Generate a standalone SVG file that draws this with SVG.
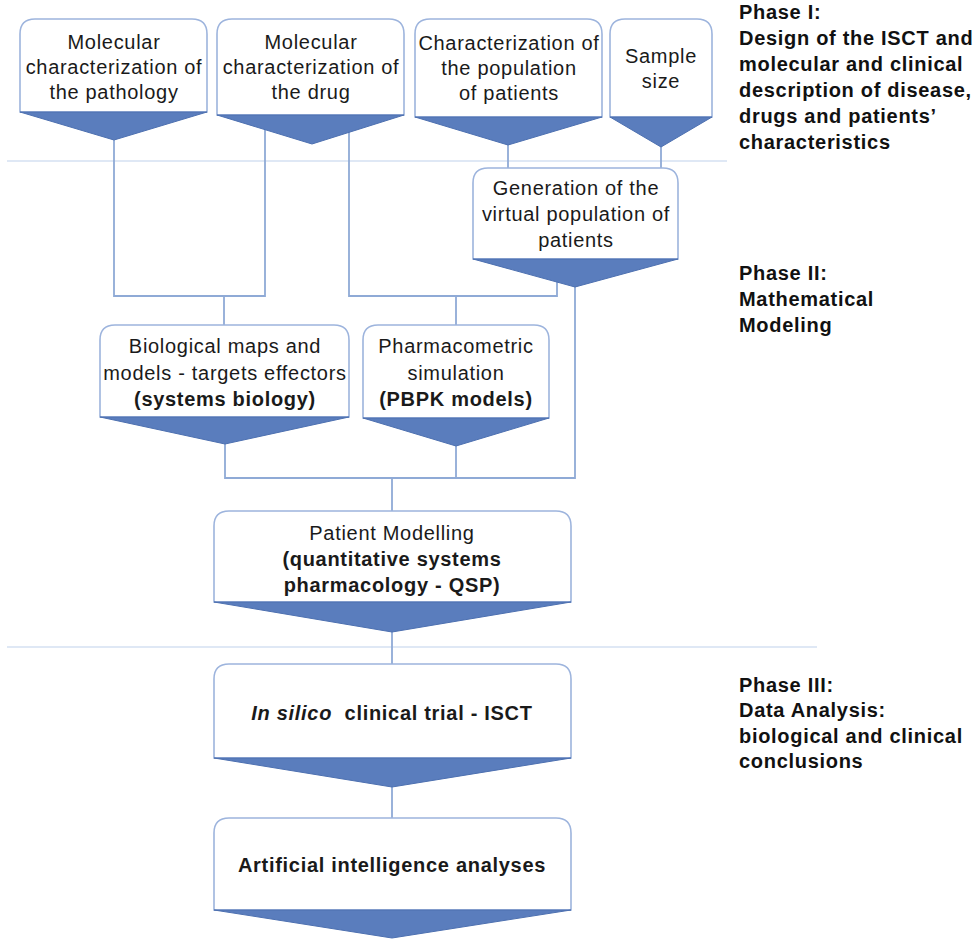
<svg xmlns="http://www.w3.org/2000/svg" width="976" height="952" viewBox="0 0 976 952">
<style>
.box{fill:#ffffff;stroke:#9db4dd;stroke-width:1.6}
.tri{fill:#5a7dbd;stroke:#4d70b0;stroke-width:1}
.con{fill:none;stroke:#8faad6;stroke-width:1.8}
.sep{fill:none;stroke:#dfe8f5;stroke-width:2}
text{font-family:"Liberation Sans",Arial,Helvetica,sans-serif;font-size:20px;fill:#1a1a1a;letter-spacing:0.7px}
.c{text-anchor:middle}
.b{font-weight:bold}
.ph{font-weight:bold;fill:#111111}
</style>
<rect width="976" height="952" fill="#ffffff"/>
<g id="separators">
<line class="sep" x1="7" y1="161" x2="727" y2="161"/>
<line class="sep" x1="7" y1="647" x2="817" y2="647"/>
</g>
<g id="connectors">
<polyline class="con" points="114,140 114,296 265,296 265,125"/>
<polyline class="con" points="349,125 349,296 557,296 557,270"/>
<line class="con" x1="224" y1="296" x2="224" y2="327"/>
<line class="con" x1="456" y1="296" x2="456" y2="327"/>
<line class="con" x1="508" y1="140" x2="508" y2="170"/>
<line class="con" x1="661" y1="140" x2="661" y2="170"/>
<polyline class="con" points="575,280 575,478 225,478 225,440"/>
<line class="con" x1="456" y1="440" x2="456" y2="478"/>
<line class="con" x1="392" y1="478" x2="392" y2="513"/>
<line class="con" x1="392" y1="628" x2="392" y2="666"/>
<line class="con" x1="392" y1="783" x2="392" y2="820"/>
</g>
<g id="node-pathology">
<path class="box" d="M20,112 V34 Q20,19 35,19 H192 Q207,19 207,34 V112 Z"/>
<polygon class="tri" points="20,112 207,112 114,140"/>
<text class="c" x="114" y="49">Molecular</text>
<text class="c" x="114" y="74">characterization of</text>
<text class="c" x="114" y="99">the pathology</text>
</g>
<g id="node-drug">
<path class="box" d="M217,115 V34 Q217,19 232,19 H389 Q404,19 404,34 V115 Z"/>
<polygon class="tri" points="217,115 404,115 312,144"/>
<text class="c" x="311" y="49">Molecular</text>
<text class="c" x="311" y="74">characterization of</text>
<text class="c" x="311" y="99">the drug</text>
</g>
<g id="node-population">
<path class="box" d="M415,117 V34 Q415,19 430,19 H587 Q602,19 602,34 V117 Z"/>
<polygon class="tri" points="415,117 602,117 508,145"/>
<text class="c" x="509" y="50">Characterization of</text>
<text class="c" x="509" y="75">the population</text>
<text class="c" x="509" y="100">of patients</text>
</g>
<g id="node-sample">
<path class="box" d="M610,117 V34 Q610,19 625,19 H697 Q712,19 712,34 V117 Z"/>
<polygon class="tri" points="610,117 712,117 661,147"/>
<text class="c" x="661" y="63">Sample</text>
<text class="c" x="661" y="88">size</text>
</g>
<g id="node-virtual">
<path class="box" d="M473,259 V183 Q473,168 488,168 H663 Q678,168 678,183 V259 Z"/>
<polygon class="tri" points="473,259 678,259 575,287"/>
<text class="c" x="576" y="195">Generation of the</text>
<text class="c" x="576" y="221">virtual population of</text>
<text class="c" x="576" y="247">patients</text>
</g>
<g id="node-biology">
<path class="box" d="M100,417 V340 Q100,325 115,325 H334 Q349,325 349,340 V417 Z"/>
<polygon class="tri" points="100,417 349,417 225,444"/>
<text class="c" x="225" y="353">Biological maps and</text>
<text class="c" x="225" y="380">models - targets effectors</text>
<text class="c b" x="225" y="406">(systems biology)</text>
</g>
<g id="node-pbpk">
<path class="box" d="M363,418 V340 Q363,325 378,325 H534 Q549,325 549,340 V418 Z"/>
<polygon class="tri" points="363,418 549,418 456,446"/>
<text class="c" x="456" y="353">Pharmacometric</text>
<text class="c" x="456" y="380">simulation</text>
<text class="c b" x="456" y="406">(PBPK models)</text>
</g>
<g id="node-qsp">
<path class="box" d="M214,602 V526 Q214,511 229,511 H556 Q571,511 571,526 V602 Z"/>
<polygon class="tri" points="214,602 571,602 392,632"/>
<text class="c" x="392" y="540">Patient Modelling</text>
<text class="c b" x="392" y="566">(quantitative systems</text>
<text class="c b" x="392" y="592">pharmacology - QSP)</text>
</g>
<g id="node-isct">
<path class="box" d="M214,758 V679 Q214,664 229,664 H556 Q571,664 571,679 V758 Z"/>
<polygon class="tri" points="214,758 571,758 392,787"/>
<text class="c b" x="392" y="720"><tspan font-style="italic">In silico</tspan>&#160; clinical trial - ISCT</text>
</g>
<g id="node-ai">
<path class="box" d="M214,910 V833 Q214,818 229,818 H556 Q571,818 571,833 V910 Z"/>
<polygon class="tri" points="214,910 571,910 392,938"/>
<text class="c b" x="392" y="872">Artificial intelligence analyses</text>
</g>
<g id="phase-labels">
<text class="ph" x="739" y="19">Phase I:</text>
<text class="ph" x="739" y="45">Design of the ISCT and</text>
<text class="ph" x="739" y="71">molecular and clinical</text>
<text class="ph" x="739" y="97">description of disease,</text>
<text class="ph" x="739" y="123">drugs and patients’</text>
<text class="ph" x="739" y="149">characteristics</text>
<text class="ph" x="739" y="280">Phase II:</text>
<text class="ph" x="739" y="306">Mathematical</text>
<text class="ph" x="739" y="332">Modeling</text>
<text class="ph" x="739" y="692">Phase III:</text>
<text class="ph" x="739" y="717">Data Analysis:</text>
<text class="ph" x="739" y="743">biological and clinical</text>
<text class="ph" x="739" y="768">conclusions</text>
</g>
</svg>
